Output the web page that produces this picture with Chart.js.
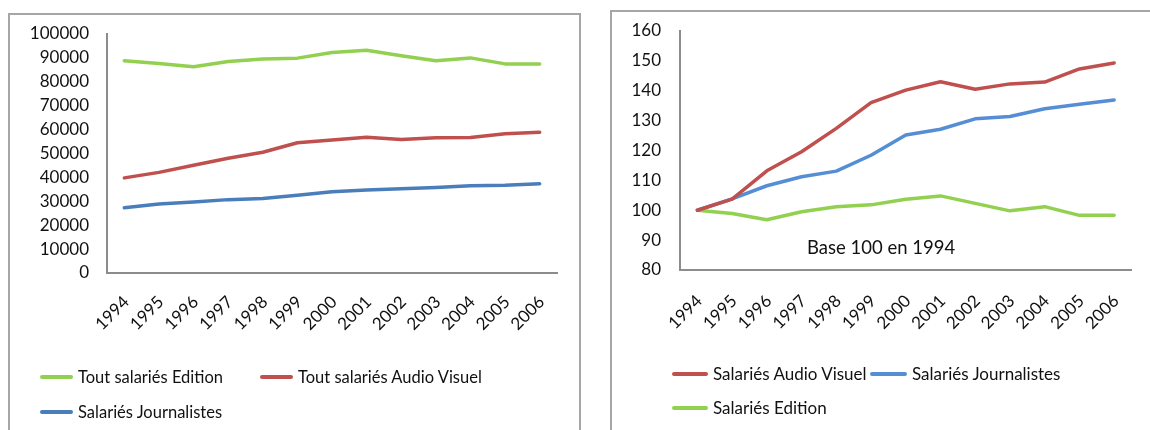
<!DOCTYPE html>
<html>
<head>
<meta charset="utf-8">
<script src="https://cdn.jsdelivr.net/npm/chart.js"></script>
<style>
  body { margin: 0; width: 1150px; height: 430px; overflow: hidden; background: #fff; font-family: Lato, sans-serif; }
  .panel { position: absolute; border: 2px solid #a6a6a6; background: #fff; }
  .wrap { position: absolute; top: 0; }
  .leg { position: absolute; color: #111; white-space: nowrap; line-height: 20px; }
  .leg span.ln { position: absolute; height: 4px; border-radius: 2px; top: 8px; }
  .note { position: absolute; font-size: 18.5px; color: #111; white-space: nowrap; }
</style>
</head>
<body>
<div class="panel" style="left:8px; top:13px; width:569px; height:440px;"></div>
<div class="panel" style="left:610px; top:10px; width:560px; height:440px;"></div>
<div class="wrap" style="left:0; width:590px; height:430px;"><canvas id="chart1"></canvas></div>
<div class="wrap" style="left:590px; width:560px; height:430px;"><canvas id="chart2"></canvas></div>
<div class="note" style="left:807px; top:236px;">Base 100 en 1994</div>
<div id="leg1"></div>
<div id="leg2"></div>
<script>
// années
const annees = ['1994', '1995', '1996', '1997', '1998', '1999', '2000', '2001', '2002', '2003', '2004', '2005', '2006'];

// graphique 1 : salaires en valeur
const toutEdition = [88800, 87700, 86300, 88500, 89500, 89900, 92300, 93200, 90900, 88800, 90000, 87500, 87500];
const toutAudioVisuel = [39800, 42100, 45100, 48000, 50500, 54500, 55600, 56800, 55900, 56600, 56700, 58300, 58900];
const journalistes = [27300, 28900, 29700, 30700, 31200, 32500, 34000, 34700, 35300, 35800, 36500, 36700, 37300];

// graphique 2 : base 100 en 1994
const indiceAudioVisuel = [100, 103.7, 113.2, 119.6, 127.4, 136, 140.2, 143, 140.5, 142.3, 142.9, 147.3, 149.3];
const indiceJournalistes = [100, 103.8, 108.2, 111.2, 113.1, 118.4, 125.2, 127.1, 130.6, 131.4, 134, 135.5, 136.9];
const indiceEdition = [100, 98.9, 96.8, 99.5, 101.2, 101.8, 103.7, 104.8, 102.3, 99.8, 101.2, 98.3, 98.3];

const VERT = '#92d050', ROUGE = '#c0504d', BLEU1 = '#4a7ebb', BLEU2 = '#558ed5';

Chart.defaults.font.family = 'Lato, sans-serif';
Chart.defaults.color = '#111';

function serie(label, data, color) {
    return { label: label, data: data, borderColor: color, backgroundColor: color, borderWidth: 3.5, pointRadius: 0, tension: 0, borderCapStyle: 'round', borderJoinStyle: 'round' };
}

function createLineChart(id, datasets, yOpts, box) {
    return new Chart(document.getElementById(id), {
        type: 'line',
        data: { labels: annees, datasets: datasets },
        options: {
            responsive: true,
            maintainAspectRatio: false,
            animation: false,
            events: [],
            layout: { padding: { top: box.top, right: box.right, left: 0, bottom: 0 } },
            plugins: { legend: { display: false }, tooltip: { enabled: false } },
            scales: {
                x: {
                    offset: true,
                    grid: { display: false, drawTicks: false },
                    border: { display: true, color: '#8c8c8c', width: 2 },
                    ticks: { autoSkip: false, minRotation: 45, maxRotation: 45, padding: box.xPad, labelOffset: box.xShift, font: { size: 17 }, color: '#111' },
                    afterFit: s => { s.height = box.xHeight; }
                },
                y: Object.assign({
                    grid: { display: false, drawTicks: false },
                    border: { display: true, color: '#8c8c8c', width: 2 },
                    afterFit: s => { s.width = box.yWidth; }
                }, yOpts)
            }
        }
    });
}

createLineChart('chart1', [
    serie('Tout salariés Edition', toutEdition, VERT),
    serie('Tout salariés Audio Visuel', toutAudioVisuel, ROUGE),
    serie('Salariés Journalistes', journalistes, BLEU1)
], {
    min: 0, max: 100000,
    ticks: { stepSize: 10000, padding: 18, font: { size: 17 }, color: '#111', callback: v => String(v) }
}, { top: 34, right: 33, xHeight: 157, yWidth: 107, xPad: 19, xShift: 2 });

createLineChart('chart2', [
    serie('Salariés Audio Visuel', indiceAudioVisuel, ROUGE),
    serie('Salariés Journalistes', indiceJournalistes, BLEU2),
    serie('Salariés Edition', indiceEdition, VERT)
], {
    min: 80, max: 160,
    ticks: { stepSize: 10, padding: 19, font: { size: 17 }, color: '#111', callback: v => String(v) }
}, { top: 31, right: 11, xHeight: 160, yWidth: 90, xPad: 21, xShift: 2 });

// légendes
function legende(id, items, taille) {
    const el = document.getElementById(id);
    items.forEach(it => {
        const d = document.createElement('div');
        d.className = 'leg';
        d.style.fontSize = taille + 'px';
        d.style.left = it.x + 'px';
        d.style.top = (it.y - 10) + 'px';
        d.style.paddingLeft = (it.w + 5) + 'px';
        d.innerHTML = '<span class="ln" style="left:0;width:' + it.w + 'px;background:' + it.color + '"></span>' + it.label;
        el.appendChild(d);
    });
}
legende('leg1', [
    { label: 'Tout salariés Edition', color: VERT, x: 40, y: 377, w: 33 },
    { label: 'Tout salariés Audio Visuel', color: ROUGE, x: 260, y: 377, w: 33 },
    { label: 'Salariés Journalistes', color: BLEU1, x: 40, y: 412, w: 33 }
], 16.5);
legende('leg2', [
    { label: 'Salariés Audio Visuel', color: ROUGE, x: 672, y: 374, w: 36 },
    { label: 'Salariés Journalistes', color: BLEU2, x: 870, y: 374, w: 37 },
    { label: 'Salariés Edition', color: VERT, x: 672, y: 408, w: 36 }
], 17);
</script>
</body>
</html>
